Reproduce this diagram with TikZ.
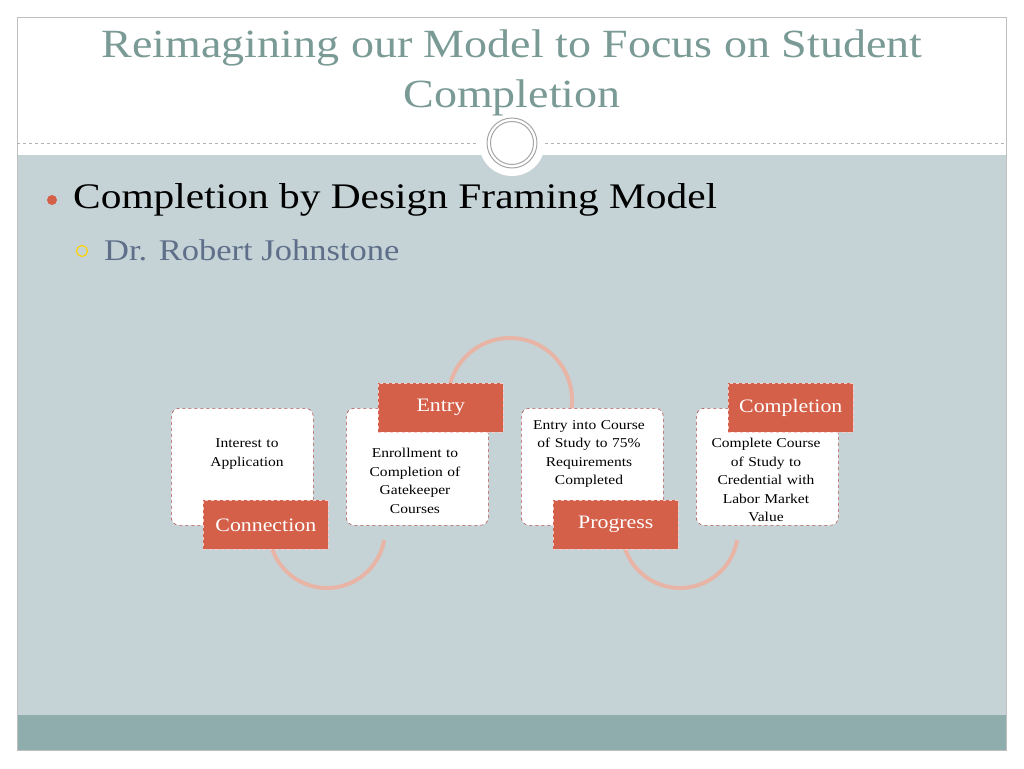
\documentclass[tikz,border=0pt]{standalone}
\usepackage{fontspec}
\setmainfont[FakeStretch=1.15]{Liberation Serif}
\begin{document}
\begin{tikzpicture}[x=1pt,y=-1pt,
  card/.style={draw=red!60!black!70,dashed,line width=0.6pt,fill=white,rounded corners=8pt,minimum width=142pt,minimum height=117pt,anchor=north west,inner sep=0pt},
  tag/.style={draw=white!80!red,dashed,line width=0.6pt,fill=tagc,minimum width=125pt,minimum height=49pt,anchor=north west,text=white,font=\fontsize{19}{22}\selectfont,inner sep=0pt},
  body/.style={align=center,font=\fontsize{13.5}{18.5}\selectfont,text width=130pt},
  ring/.style={draw=arcc,line width=4pt}]
\definecolor{bg}{HTML}{C5D3D7}
\definecolor{barc}{HTML}{8FADAD}
\definecolor{titc}{HTML}{7A9A95}
\definecolor{tagc}{HTML}{D4604A}
\definecolor{arcc}{HTML}{E8B4A6}
\definecolor{subc}{HTML}{5F6F8A}
\useasboundingbox (0,0) rectangle (1024,768);
\fill[white] (0,0) rectangle (1024,768);
\fill[bg] (17,155) rectangle (1006,715);
\fill[barc] (17,715) rectangle (1006,750);
\draw[gray!50,line width=0.6pt] (17,17) rectangle (1006,750);
\draw[gray!60,dashed,line width=0.5pt] (17,143) -- (1006,143);
\fill[white] (512,143) circle (33);
\draw[gray!70,line width=1pt] (512,143) circle (25);
\draw[gray!70,line width=1pt] (512,143) circle (21.5);
\node[text=titc,font=\fontsize{40}{50}\selectfont,align=center] (title) at (512,73) {Reimagining our Model to Focus on Student\\Completion};
\fill[tagc] (52,200) circle (5);
\node[anchor=west,font=\fontsize{36}{40}\selectfont,inner sep=0pt] (b1) at (73,200) {Completion by Design Framing Model};
\draw[yellow!70!orange,line width=1.2pt] (82,251) circle (5.5);
\node[anchor=west,text=subc,font=\fontsize{30}{32}\selectfont,inner sep=0pt] (b2) at (104,250) {Dr. Robert Johnstone};
% arcs (y axis points down: positive angles go downward)
\draw[ring] (327,530) ++(170:58) arc (170:10:58);
\draw[ring] (510,400) ++(190:62) arc (190:385:62);
\draw[ring] (680,530) ++(170:58) arc (170:10:58);
% cards
\node[card] (c1) at (171,408) {};
\node[card] (c2) at (346,408) {};
\node[card] (c3) at (521,408) {};
\node[card] (c4) at (696,408) {};
\node[body] (t1) at (247,454) {Interest to\\Application};
\node[body] (t2) at (415,481) {Enrollment to\\Completion of\\Gatekeeper\\Courses};
\node[body] (t3) at (589,454) {Entry into Course\\of Study to 75\%\\Requirements\\Completed};
\node[body] (t4) at (766,480) {Complete Course\\of Study to\\Credential with\\Labor Market\\Value};
\node[tag] (g1) at (203,500) {Connection};
\node[tag] (g2) at (378,383) {Entry};
\node[tag] (g3) at (553,500) {Progress};
\node[tag] (g4) at (728,383) {Completion};
\end{tikzpicture}
\end{document}
